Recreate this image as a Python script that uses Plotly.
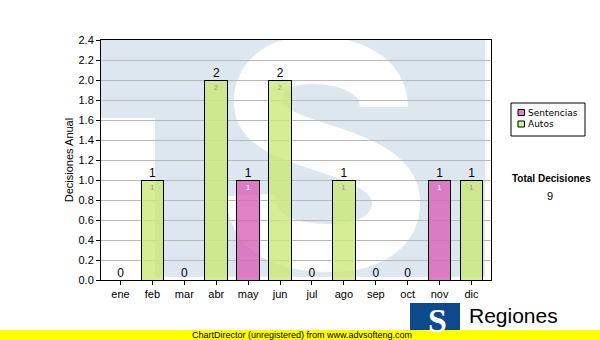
import plotly.graph_objects as go

# ---- data ----
months = ['ene', 'feb', 'mar', 'abr', 'may', 'jun', 'jul', 'ago', 'sep', 'oct', 'nov', 'dic']
sentencias = [0, 0, 0, 0, 1, 0, 0, 0, 0, 0, 1, 0]
autos = [0, 1, 0, 2, 0, 2, 0, 1, 0, 0, 0, 1]
totals = [s + a for s, a in zip(sentencias, autos)]
total_decisiones = sum(totals)
y_title = 'Decisiones Anual'
legend_names = ['Sentencias', 'Autos']

# ---- geometry of the page (pixels) ----
W, H = 600, 340
L, R, T, B = 101, 491, 40, 280


def px(x):
    return (x - L) / (R - L)


def py(y):
    return (B - y) / (B - T)


FONT = 'Liberation Sans, Arial, sans-serif'
PINK = 'rgba(216,98,184,0.80)'
GREEN = 'rgba(202,232,120,0.80)'
WM = '#dde7f0'

fig = go.Figure()
fig.add_trace(go.Bar(
    x=months, y=[v if v else None for v in sentencias], name=legend_names[0],
    marker=dict(color=PINK, line=dict(color='black', width=1)),
    text=[str(v) if v else None for v in sentencias], textposition='inside',
    insidetextanchor='end', textfont=dict(size=8, color='white', family=FONT),
    showlegend=False, hoverinfo='skip'))
fig.add_trace(go.Bar(
    x=months, y=[v if v else None for v in autos], name=legend_names[1],
    marker=dict(color=GREEN, line=dict(color='black', width=1)),
    text=[str(v) if v else None for v in autos], textposition='inside',
    insidetextanchor='end', textfont=dict(size=8, color='#9a9a9a', family=FONT),
    showlegend=False, hoverinfo='skip'))
fig.add_trace(go.Scatter(
    x=months, y=totals, mode='text', text=[str(v) for v in totals],
    textposition='top center', textfont=dict(size=12, color='black', family=FONT),
    showlegend=False, hoverinfo='skip', cliponaxis=False))

shapes = []
# watermark: light blue block
shapes.append(dict(type='rect', xref='paper', yref='paper', layer='below',
                   x0=px(101), x1=px(485), y0=py(277), y1=py(40),
                   fillcolor=WM, line=dict(width=0)))
# white area left of the T stem
shapes.append(dict(type='rect', xref='paper', yref='paper', layer='below',
                   x0=px(101), x1=px(155), y0=py(280), y1=py(118),
                   fillcolor='white', line=dict(width=0)))
# white S stroke
pts = [(384, 107), (384, 75), (350, 60), (312, 60), (275, 60), (256, 80), (258, 105),
       (260, 130), (300, 140), (330, 150), (370, 163), (398, 178), (396, 205),
       (394, 235), (365, 248), (330, 248), (285, 248), (252, 235), (250, 195)]
c = [f'{px(x):.4f},{py(y):.4f}' for x, y in pts]
path = f'M {c[0]} C {c[1]} {c[2]} {c[3]} C {c[4]} {c[5]} {c[6]} C {c[7]} {c[8]} {c[9]} ' \
       f'C {c[10]} {c[11]} {c[12]} C {c[13]} {c[14]} {c[15]} C {c[16]} {c[17]} {c[18]}'
shapes.append(dict(type='path', xref='paper', yref='paper', layer='below', path=path,
                   line=dict(color='white', width=48)))

# legend box
shapes.append(dict(type='rect', xref='paper', yref='paper',
                   x0=px(511), x1=px(585), y0=py(136), y1=py(103),
                   fillcolor='white', line=dict(color='black', width=1)))
LEG_Y = [112.5, 124]
for yc, col in zip(LEG_Y, [PINK, GREEN]):
    shapes.append(dict(type='rect', xref='paper', yref='paper',
                       x0=px(518), x1=px(524.5), y0=py(yc + 3), y1=py(yc - 3),
                       fillcolor=col, line=dict(color='black', width=1)))
# logo at bottom
shapes.append(dict(type='rect', xref='paper', yref='paper',
                   x0=px(410), x1=px(460), y0=py(330), y1=py(303),
                   fillcolor='#0d4a8c', line=dict(width=0)))
# yellow unregistered band
shapes.append(dict(type='rect', xref='paper', yref='paper',
                   x0=px(0), x1=px(W), y0=py(H), y1=py(330),
                   fillcolor='#ffff00', line=dict(width=0)))

annotations = []
for yc, name in zip(LEG_Y, legend_names):
    annotations.append(dict(xref='paper', yref='paper', x=px(527), y=py(yc),
                            xanchor='left', yanchor='middle', showarrow=False, borderpad=0,
                            text=name, font=dict(size=9, color='black', family='DejaVu Sans')))
annotations.append(dict(xref='paper', yref='paper', x=px(551), y=py(178),
                        xanchor='center', yanchor='middle', showarrow=False,
                        text='<b>Total Decisiones</b>', font=dict(size=10, color='black', family=FONT)))
annotations.append(dict(xref='paper', yref='paper', x=px(550), y=py(196),
                        xanchor='center', yanchor='middle', showarrow=False,
                        text=str(total_decisiones), font=dict(size=11, color='black', family=FONT)))
annotations.append(dict(xref='paper', yref='paper', x=px(437), y=py(320),
                        xanchor='center', yanchor='middle', showarrow=False,
                        text='<b>S</b>', font=dict(size=34, color='white', family='Liberation Serif')))
annotations.append(dict(xref='paper', yref='paper', x=px(467), y=py(315),
                        xanchor='left', yanchor='middle', showarrow=False,
                        text='Regiones', font=dict(size=21, color='black', family=FONT)))
annotations.append(dict(xref='paper', yref='paper', x=px(190), y=py(335),
                        xanchor='left', yanchor='middle', showarrow=False,
                        text='ChartDirector (unregistered) from www.advsofteng.com',
                        font=dict(size=9, color='black', family=FONT)))

fig.update_layout(
    width=W, height=H, margin=dict(l=L, r=W - R, t=T, b=H - B, autoexpand=False),
    paper_bgcolor='white', plot_bgcolor='rgba(0,0,0,0)',
    barmode='stack', bargap=0.29, showlegend=False,
    font=dict(family=FONT, size=11, color='black'),
    shapes=shapes, annotations=annotations,
    xaxis=dict(type='category', categoryorder='array', categoryarray=months,
               showline=True, mirror=True, linecolor='black', linewidth=1,
               ticks='outside', ticklen=4, tickcolor='black', showgrid=False,
               tickfont=dict(size=11, family=FONT)),
    yaxis=dict(range=[0, 2.4], dtick=0.2, tickformat='.1f',
               showline=True, mirror=True, linecolor='black', linewidth=1,
               ticks='outside', ticklen=4, tickcolor='black',
               showgrid=True, gridcolor='#b8b8b8', gridwidth=1, zeroline=False,
               tickfont=dict(size=11, family=FONT),
               title=dict(text=y_title, font=dict(size=11, family=FONT), standoff=2)),
)

fig.write_html('out.html')
